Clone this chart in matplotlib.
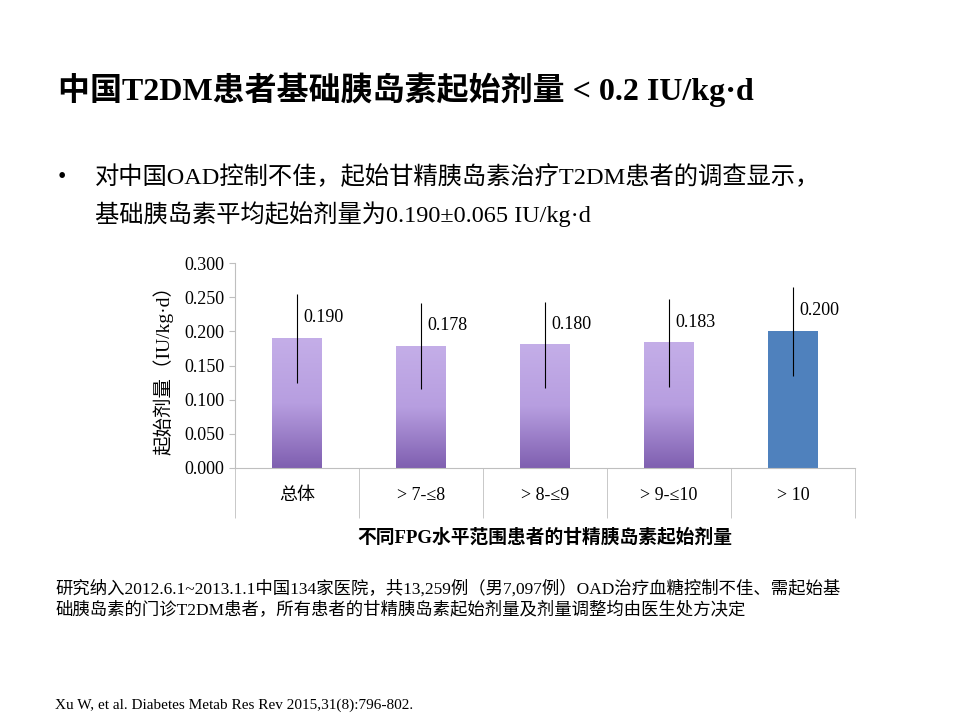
import matplotlib
matplotlib.use("Agg")
import matplotlib.pyplot as plt
import numpy as np
from matplotlib.colors import LinearSegmentedColormap

categories = ["总体", "> 7-≤8", "> 8-≤9", "> 9-≤10", "> 10"]
values = [0.190, 0.178, 0.180, 0.183, 0.200]
errors = [0.065, 0.063, 0.063, 0.065, 0.065]
labels = ["0.190", "0.178", "0.180", "0.183", "0.200"]

FAM = ['Liberation Serif', 'Noto Sans CJK SC']
plt.rcParams['font.family'] = FAM

fig = plt.figure(figsize=(9.6, 7.2), dpi=100)
fig.text(58/960, 1-90/720, "中国T2DM患者基础胰岛素起始剂量 < 0.2 IU/kg·d", fontsize=23,
         fontweight='bold', va='center', ha='left')
fig.text(58/960, 1-177/720, "•", fontsize=17, va='center')
fig.text(95/960, 1-177/720, "对中国OAD控制不佳，起始甘精胰岛素治疗T2DM患者的调查显示，", fontsize=17.5, va='center')
fig.text(95/960, 1-214/720, "基础胰岛素平均起始剂量为0.190±0.065 IU/kg·d", fontsize=17.5, va='center')

ax = fig.add_axes([235/960, 1-468/720, 620/960, 205/720])
x = np.arange(len(categories))
w = 0.4
cmap = LinearSegmentedColormap.from_list("p", ["#c4aee8", "#b79ee0", "#7f5fb0"])
for i, (v, e) in enumerate(zip(values, errors)):
    if i < 4:
        grad = np.linspace(0, 1, 256).reshape(-1, 1)
        ax.imshow(grad, extent=[i - w/2, i + w/2, 0, v], aspect='auto', cmap=cmap,
                  origin='upper', zorder=2)
    else:
        ax.bar(i, v, w, color="#4f81bd", zorder=2)
    ax.errorbar(i, v, yerr=e, color='black', lw=0.8, capsize=0, zorder=3)
    ax.text(i + 0.05, v + 0.03, labels[i], fontsize=13, ha='left', va='center')

ax.set_xlim(-0.5, len(categories) - 0.5)
ax.set_ylim(0, 0.3)
ax.set_yticks(np.arange(0, 0.301, 0.05))
ax.set_yticklabels([f"{t:.3f}" for t in np.arange(0, 0.301, 0.05)], fontsize=13)
ax.set_xticks(x)
ax.set_xticklabels(categories, fontsize=13)
ax.tick_params(axis='x', length=0, pad=14)
ax.set_xticks(np.arange(-0.5, len(categories), 1), minor=True)
ax.tick_params(axis='x', which='minor', length=36, color='#bfbfbf')
ax.tick_params(axis='y', length=4, color='#bfbfbf')
for s in ['top', 'right']:
    ax.spines[s].set_visible(False)
for s in ['left', 'bottom']:
    ax.spines[s].set_color('#bfbfbf')
ax.set_ylabel("起始剂量（IU/kg·d）", fontsize=14, labelpad=8)
ax.set_xlabel("不同FPG水平范围患者的甘精胰岛素起始剂量", fontsize=13.5, fontweight='bold', labelpad=4)

fig.text(55/960, 1-589/720, "研究纳入2012.6.1~2013.1.1中国134家医院，共13,259例（男7,097例）OAD治疗血糖控制不佳、需起始基",
         fontsize=12.5, va='center')
fig.text(55/960, 1-611/720, "础胰岛素的门诊T2DM患者，所有患者的甘精胰岛素起始剂量及剂量调整均由医生处方决定",
         fontsize=12.5, va='center')
fig.text(55/960, 1-705/720, "Xu W, et al. Diabetes Metab Res Rev 2015,31(8):796-802.", fontsize=11, va='center')

fig.savefig("out.png", dpi=100)
